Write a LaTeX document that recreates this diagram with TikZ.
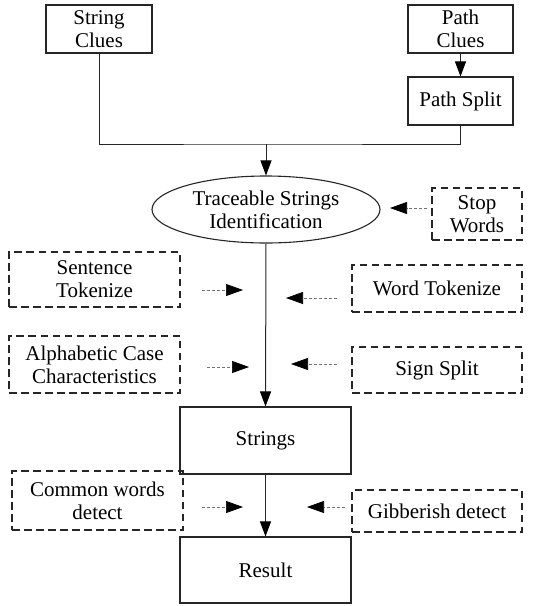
\documentclass[tikz,border=0pt]{standalone}
\usepackage{fontspec}
\setmainfont{Liberation Serif}
\usetikzlibrary{arrows.meta, positioning, shapes, shapes.geometric}

\begin{document}
\begin{tikzpicture}[x=1pt, y=-1pt,
    box/.style     = {draw=black!85, line width=1.1pt, inner sep=0pt, align=center,
                      font=\fontsize{21}{23}\selectfont},
    dashbox/.style = {box, draw=black!85, line width=1.6pt, dash pattern=on 7.5pt off 4.5pt},
    flow/.style    = {draw=black!85, line width=1pt, -{Triangle[length=15pt, width=11pt, color=black]}},
    hint/.style    = {draw=black!55, line width=0.7pt, dash pattern=on 3pt off 2pt,
                      -{Triangle[length=17pt, width=12pt, color=black]}}]
      % Canvas, same size as the reference
      \useasboundingbox (0,0) rectangle (538,606);

      % Clue boxes
      \node[box, minimum width=106pt, minimum height=48pt] (strclues)  at (99,29)    {String\\Clues};
      \node[box, minimum width=105pt, minimum height=48pt] (pathclues) at (460.5,29) {Path\\Clues};
      \node[box, minimum width=105pt, minimum height=48pt] (pathsplit) at (460.5,101) {Path Split};

      % Main chain
      \node[box, ellipse, minimum width=228pt, minimum height=67pt] (trace) at (266,209.5)
           {Traceable Strings\\Identification};
      \node[box, minimum width=171pt, minimum height=67pt] (strings) at (265.5,440.5) {Strings};
      \node[box, minimum width=171pt, minimum height=66pt] (result)  at (265.5,570)   {Result};

      % Helpers (dashed)
      \node[dashbox, minimum width=90pt,  minimum height=52pt] (stopwords) at (477,214)    {Stop\\Words};
      \node[dashbox, minimum width=171pt, minimum height=55pt] (sentence)  at (94.5,279.5) {Sentence\\Tokenize};
      \node[dashbox, minimum width=170pt, minimum height=47pt] (wordtok)   at (437,288.5)  {Word Tokenize};
      \node[dashbox, minimum width=171pt, minimum height=57pt] (alphacase) at (94.5,364.5) {Alphabetic Case\\Characteristics};
      \node[dashbox, minimum width=170pt, minimum height=46pt] (signsplit) at (437,370)    {Sign Split};
      \node[dashbox, minimum width=171pt, minimum height=59pt] (common)    at (97.5,500.5) {Common words\\detect};
      \node[dashbox, minimum width=170pt, minimum height=42pt] (gibberish) at (437,511)    {Gibberish detect};

      % Solid connectors
      \coordinate (join) at (266,144);
      \draw[flow] (pathclues) -- (pathsplit);
      \draw[draw=black!85, line width=1pt] (strclues.south) |- (join) -| (pathsplit.south);
      \draw[flow] (join) -- (trace.north);
      \draw[flow] (trace.south) -- (strings.north);
      \draw[flow] (strings) -- (result);

      % Dashed hints, free ends float next to the main line
      \coordinate (stopA) at (427,208);  \coordinate (stopB) at (390,208);
      \coordinate (sentA) at (202,290);  \coordinate (sentB) at (243,290);
      \coordinate (wordA) at (337,298);  \coordinate (wordB) at (286,298);
      \coordinate (alphA) at (207,367);  \coordinate (alphB) at (249,367);
      \coordinate (signA) at (337,364);  \coordinate (signB) at (291,364);
      \coordinate (commA) at (202,507);  \coordinate (commB) at (243,507);
      \coordinate (gibbA) at (345,507);  \coordinate (gibbB) at (307,507);
      \foreach \a/\b in {stopA/stopB, sentA/sentB, wordA/wordB, alphA/alphB,
                         signA/signB, commA/commB, gibbA/gibbB}
        \draw[hint] (\a) -- (\b);
\end{tikzpicture}
\end{document}
